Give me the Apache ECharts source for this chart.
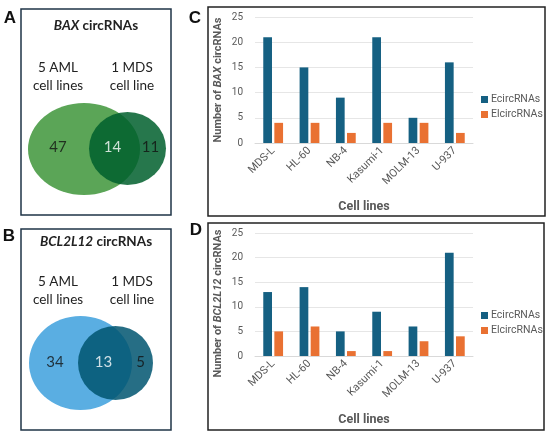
<!DOCTYPE html>
<html>
<head>
<meta charset="utf-8">
<script src="https://cdn.jsdelivr.net/npm/echarts@6/dist/echarts.min.js"></script>
<style>
    html, body { margin: 0; padding: 0; background: #fff; }
    #main { width: 550px; height: 438px; }
</style>
</head>
<body>
<div id="main"></div>
<script>
// 数据
var cellLines = ['MDS-L', 'HL-60', 'NB-4', 'Kasumi-1', 'MOLM-13', 'U-937'];
var baxEcirc = [21, 15, 9, 21, 5, 16];
var baxElcirc = [4, 4, 2, 4, 4, 2];
var bclEcirc = [13, 14, 5, 9, 6, 21];
var bclElcirc = [5, 6, 1, 1, 3, 4];
// venn: AML only, both, MDS only
var baxVenn = [47, 14, 11];
var bclVenn = [34, 13, 5];
var seriesNames = ['EcircRNAs', 'ElcircRNAs'];
var yMin = 0, yMax = 25, yStep = 5;

var myChart = echarts.init(document.getElementById('main'));

var grayText = '#595959';
var tickFont = 'Roboto, sans-serif';
var vennFont = 'Lato, sans-serif';

function vennLabels(counts, cy) {
    var xs = [58, 112.5, 150.5];
    if (cy > 200) xs = [55, 103.5, 140.5];
    var colors = ['#111', '#fff', '#111'];
    return counts.map(function (c, i) {
        return {
            value: [xs[i], cy, c],
            label: { color: colors[i] }
        };
    });
}

function catAxis(idx) {
    return {
        type: 'category',
        gridIndex: idx,
        data: cellLines,
        name: 'Cell lines',
        nameLocation: 'middle',
        nameGap: 57,
        nameTextStyle: { fontFamily: tickFont, fontWeight: 'bold', fontSize: 12.5, color: grayText },
        axisLine: { lineStyle: { color: '#d9d9d9' } },
        axisTick: { show: false },
        axisLabel: { rotate: 45, fontFamily: tickFont, fontSize: 11, color: grayText, margin: 6 }
    };
}

// shift: 名称沿轴向下移动的像素
function valAxis(idx, gene, shift) {
    return {
        type: 'value',
        gridIndex: idx,
        min: yMin,
        max: yMax,
        interval: yStep,
        name: '{n|Number of }{i|' + gene + '}{n| circRNAs}',
        nameLocation: 'middle',
        nameGap: 31,
        nameTextStyle: {
            padding: [0, shift * 2, 0, 0],
            rich: {
                n: { fontFamily: tickFont, fontWeight: 'bold', fontSize: 11, color: grayText },
                i: { fontFamily: tickFont, fontWeight: 'bold', fontStyle: 'italic', fontSize: 11, color: grayText }
            }
        },
        axisLine: { show: false },
        axisTick: { show: false },
        axisLabel: { fontFamily: tickFont, fontSize: 10, color: grayText, margin: 12 },
        splitLine: { lineStyle: { color: '#e6e6e6' } }
    };
}

function barSeries(name, data, idx, color) {
    return {
        name: name,
        type: 'bar',
        xAxisIndex: idx,
        yAxisIndex: idx,
        data: data,
        barWidth: '24%',
        barGap: '27%',
        itemStyle: { color: color }
    };
}

function legend(top) {
    return {
        data: seriesNames,
        orient: 'vertical',
        left: 479,
        top: top,
        itemWidth: 7,
        itemHeight: 7,
        itemGap: 4,
        icon: 'rect',
        padding: 2,
        textStyle: { fontFamily: tickFont, fontSize: 10.5, color: grayText, padding: [0, 0, 0, -2] }
    };
}

function boxText(x, y, text, size) {
    return {
        type: 'text',
        style: { x: x, y: y, text: text, font: 'bold ' + size + 'px "Liberation Sans", Arial, sans-serif', fill: '#111', textAlign: 'center', textVerticalAlign: 'middle' }
    };
}

function vennText(x, y, text) {
    return {
        type: 'text',
        style: { x: x, y: y, text: text, font: '13.5px ' + vennFont, fill: '#222', textAlign: 'center', textVerticalAlign: 'middle', lineHeight: 18 }
    };
}

function vennTitle(y, gene) {
    return {
        type: 'text',
        style: {
            x: 96, y: y, textAlign: 'center', textVerticalAlign: 'middle',
            text: '{i|' + gene + '}{n| circRNAs}',
            rich: {
                i: { fontFamily: vennFont, fontWeight: 'bold', fontStyle: 'italic', fontSize: 13.5, fill: '#222', color: '#222' },
                n: { fontFamily: vennFont, fontWeight: 'bold', fontSize: 13.5, fill: '#222', color: '#222' }
            }
        }
    };
}

function boxRect(x, y, w, h, color) {
    return {
        type: 'rect',
        shape: { x: x, y: y, width: w, height: h },
        style: { fill: 'none', stroke: color, lineWidth: 1.5 }
    };
}

var option = {
    animation: false,
    grid: [
        { left: 0, top: 0, width: 200, height: 438 },
        { left: 255, top: 17, width: 218, height: 126 },
        { left: 255, top: 233, width: 218, height: 123 }
    ],
    xAxis: [
        { type: 'value', gridIndex: 0, min: 0, max: 200, show: false },
        catAxis(1),
        catAxis(2)
    ],
    yAxis: [
        { type: 'value', gridIndex: 0, min: 0, max: 438, inverse: true, show: false },
        valAxis(1, 'BAX', 0),
        valAxis(2, 'BCL2L12', 9)
    ],
    legend: [legend(92), legend(308)],
    series: [
        // venn A
        { type: 'scatter', xAxisIndex: 0, yAxisIndex: 0, silent: true, z: 1,
          data: [[84, 149]], symbolSize: [112, 92], itemStyle: { color: '#5ba557', opacity: 1 } },
        { type: 'scatter', xAxisIndex: 0, yAxisIndex: 0, silent: true, z: 2,
          data: [[127.5, 148.5]], symbolSize: [77, 73], itemStyle: { color: 'rgb(0,95,45)', opacity: 0.85 } },
        { type: 'scatter', xAxisIndex: 0, yAxisIndex: 0, silent: true, z: 3,
          data: vennLabels(baxVenn, 147), symbolSize: 0,
          label: { show: true, position: 'inside', fontFamily: vennFont, fontSize: 15, formatter: function (p) { return p.value[2]; } } },
        // venn B
        { type: 'scatter', xAxisIndex: 0, yAxisIndex: 0, silent: true, z: 1,
          data: [[80.5, 363]], symbolSize: [103, 94], itemStyle: { color: '#5aaee2', opacity: 1 } },
        { type: 'scatter', xAxisIndex: 0, yAxisIndex: 0, silent: true, z: 2,
          data: [[115.5, 363]], symbolSize: [75, 74], itemStyle: { color: 'rgb(0,85,112)', opacity: 0.85 } },
        { type: 'scatter', xAxisIndex: 0, yAxisIndex: 0, silent: true, z: 3,
          data: vennLabels(bclVenn, 362), symbolSize: 0,
          label: { show: true, position: 'inside', fontFamily: vennFont, fontSize: 15, formatter: function (p) { return p.value[2]; } } },
        // bars
        barSeries(seriesNames[0], baxEcirc, 1, '#156082'),
        barSeries(seriesNames[1], baxElcirc, 1, '#e97132'),
        barSeries(seriesNames[0], bclEcirc, 2, '#156082'),
        barSeries(seriesNames[1], bclElcirc, 2, '#e97132')
    ],
    graphic: [
        boxRect(21, 9, 150, 206, '#1f3447'),
        boxRect(21, 229, 150, 201, '#1f3447'),
        boxRect(208, 7, 337, 209, '#222'),
        boxRect(208, 223, 336, 207, '#222'),
        boxText(10, 18, 'A', 17),
        boxText(9, 236, 'B', 17),
        boxText(195, 18, 'C', 17),
        boxText(196, 230, 'D', 17),
        vennTitle(26, 'BAX'),
        vennTitle(242, 'BCL2L12'),
        vennText(58, 77, '5 AML\ncell lines'),
        vennText(132, 77, '1 MDS\ncell line'),
        vennText(58, 291, '5 AML\ncell lines'),
        vennText(132, 291, '1 MDS\ncell line')
    ]
};

myChart.setOption(option);
</script>
</body>
</html>
